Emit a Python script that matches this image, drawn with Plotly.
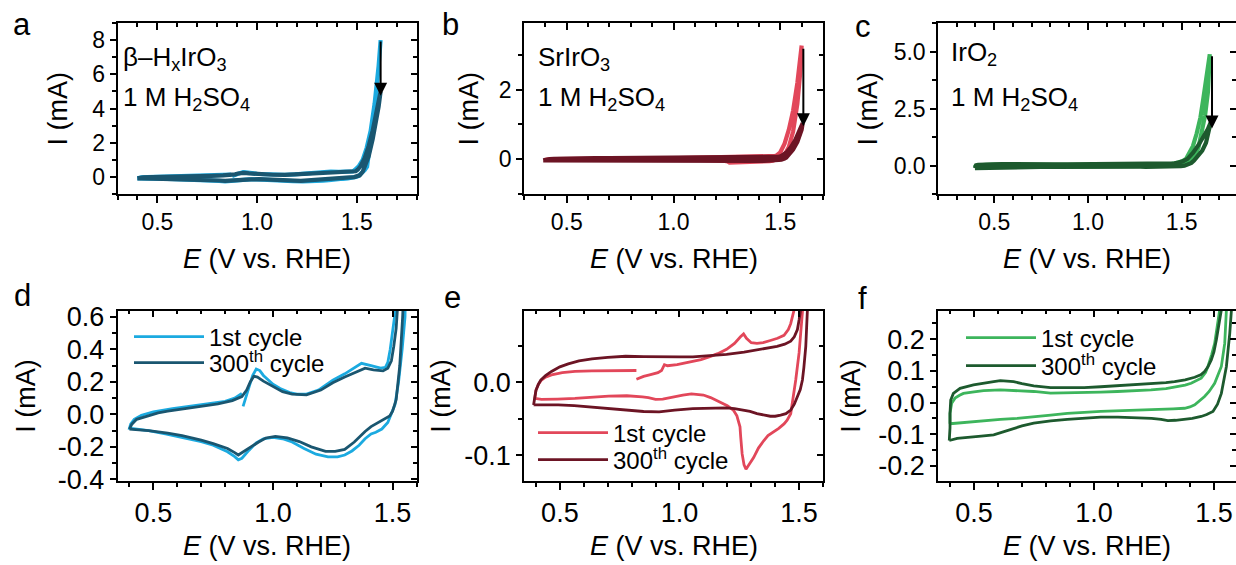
import plotly.graph_objects as go

# ---------------- data (E in V vs RHE, I in mA) ----------------
# beta-HxIrO3, 1st cycle (starts at 0.875 V, anodic first)
hir1_E = [0.875, 0.885, 0.90, 0.915, 0.93, 0.945, 0.96, 0.98, 1.00, 1.03, 1.07, 1.10, 1.14, 1.19, 1.25, 1.30, 1.33, 1.37, 1.41, 1.45, 1.47, 1.48, 1.49, 1.50, 1.51, 1.53, 1.55, 1.57, 1.59, 1.61, 1.62,
          1.615, 1.60, 1.58, 1.565, 1.552, 1.54, 1.525, 1.51, 1.495, 1.48, 1.455, 1.43, 1.41, 1.385, 1.36, 1.33, 1.30, 1.27, 1.23, 1.18, 1.13, 1.08, 1.04, 1.00, 0.96, 0.93, 0.90, 0.87, 0.855, 0.84, 0.81, 0.75, 0.70, 0.62, 0.55, 0.48, 0.43, 0.40,
          0.405, 0.42, 0.45, 0.50, 0.58, 0.66, 0.75, 0.80, 0.84, 0.87]
hir1_I = [0.05, 0.10, 0.17, 0.24, 0.28, 0.27, 0.24, 0.21, 0.186, 0.16, 0.135, 0.125, 0.125, 0.15, 0.21, 0.25, 0.28, 0.315, 0.30, 0.285, 0.29, 0.32, 0.40, 0.50, 0.62, 1.0, 1.7, 2.7, 4.3, 6.5, 8.0,
          7.0, 5.0, 3.0, 1.6, 0.6, 0.4, 0.2, 0.06, 0.0, -0.05, -0.09, -0.11, -0.12, -0.15, -0.19, -0.225, -0.25, -0.262, -0.262, -0.245, -0.21, -0.17, -0.15, -0.142, -0.15, -0.175, -0.22, -0.27, -0.28, -0.26, -0.23, -0.19, -0.168, -0.14, -0.12, -0.10, -0.09, -0.085,
          -0.06, -0.03, -0.005, 0.015, 0.035, 0.05, 0.068, 0.08, 0.10, 0.13]
# beta-HxIrO3, 300th cycle
hir300_E = [0.40, 0.41, 0.43, 0.475, 0.52, 0.56, 0.63, 0.70, 0.77, 0.83, 0.87, 0.89, 0.905, 0.92, 0.935, 0.96, 1.00, 1.04, 1.08, 1.14, 1.20, 1.25, 1.30, 1.34, 1.385, 1.42, 1.46, 1.48, 1.495, 1.505, 1.515, 1.52, 1.54, 1.56, 1.58, 1.60, 1.62,
            1.61, 1.60, 1.58, 1.56, 1.542, 1.53, 1.515, 1.50, 1.488, 1.465, 1.44, 1.41, 1.385, 1.36, 1.34, 1.30, 1.26, 1.22, 1.16, 1.11, 1.06, 1.01, 0.97, 0.94, 0.90, 0.87, 0.855, 0.84, 0.81, 0.75, 0.70, 0.62, 0.56, 0.48, 0.42, 0.40]
hir300_I = [-0.09, -0.06, -0.03, -0.01, 0.01, 0.02, 0.035, 0.05, 0.065, 0.085, 0.11, 0.15, 0.20, 0.235, 0.23, 0.205, 0.17, 0.14, 0.125, 0.12, 0.15, 0.195, 0.23, 0.255, 0.285, 0.275, 0.268, 0.285, 0.33, 0.42, 0.53, 0.64, 1.1, 1.8, 2.7, 3.8, 5.0,
            4.1, 3.4, 2.2, 1.2, 0.6, 0.3, 0.09, 0.02, -0.01, -0.03, -0.05, -0.075, -0.105, -0.14, -0.17, -0.215, -0.228, -0.228, -0.20, -0.167, -0.145, -0.135, -0.145, -0.17, -0.21, -0.24, -0.25, -0.235, -0.21, -0.18, -0.158, -0.13, -0.115, -0.10, -0.093, -0.09]

# SrIrO3, 1st cycle (starts at 0.82 V)
sr1_E = [0.82, 0.85, 0.875, 0.91, 0.925, 0.937, 0.95, 0.97, 0.99, 1.02, 1.056, 1.09, 1.127, 1.16, 1.197, 1.23, 1.255, 1.268, 1.28, 1.30, 1.324, 1.35, 1.38, 1.41, 1.437, 1.455, 1.465, 1.475, 1.48, 1.50, 1.52, 1.54, 1.56, 1.58, 1.60,
         1.595, 1.58, 1.56, 1.54, 1.52, 1.50, 1.486, 1.475, 1.465, 1.45, 1.437, 1.415, 1.394, 1.37, 1.352, 1.33, 1.31, 1.29, 1.278, 1.27, 1.262, 1.256, 1.253, 1.24, 1.225, 1.20, 1.17, 1.13, 1.10, 1.05, 1.014, 0.96, 0.93, 0.90, 0.87, 0.845, 0.78, 0.704, 0.63, 0.563, 0.49, 0.423, 0.395,
         0.40, 0.41, 0.423, 0.44, 0.465, 0.51, 0.563, 0.634, 0.704, 0.77, 0.82]
sr1_I = [0.004, 0.008, 0.010, 0.013, 0.016, 0.024, 0.0225, 0.023, 0.024, 0.026, 0.0285, 0.031, 0.035, 0.039, 0.045, 0.053, 0.062, 0.066, 0.060, 0.054, 0.053, 0.054, 0.057, 0.060, 0.064, 0.072, 0.080, 0.095, 0.10, 0.20, 0.45, 0.85, 1.4, 2.2, 3.27,
         2.6, 1.6, 0.8, 0.35, 0.12, 0.04, 0.003, -0.02, -0.043, -0.052, -0.057, -0.063, -0.068, -0.073, -0.080, -0.090, -0.103, -0.113, -0.119, -0.113, -0.098, -0.075, -0.061, -0.046, -0.038, -0.032, -0.027, -0.021, -0.0175, -0.016, -0.0175, -0.021, -0.023, -0.0235, -0.021, -0.020, -0.0185, -0.019, -0.021, -0.022, -0.023, -0.0235, -0.022,
         -0.011, -0.003, 0.003, 0.007, 0.010, 0.013, 0.0147, 0.0155, 0.016, 0.016, 0.016]
# SrIrO3, 300th cycle
sr300_E = [0.39, 0.395, 0.40, 0.41, 0.42, 0.44, 0.465, 0.50, 0.535, 0.58, 0.634, 0.70, 0.775, 0.85, 0.915, 1.00, 1.056, 1.12, 1.197, 1.27, 1.338, 1.408, 1.44, 1.465, 1.48, 1.493, 1.50, 1.507, 1.53, 1.55, 1.57, 1.59, 1.605,
           1.60, 1.58, 1.56, 1.545, 1.535, 1.528, 1.52, 1.514, 1.505, 1.493, 1.48, 1.465, 1.445, 1.423, 1.40, 1.38, 1.35, 1.324, 1.295, 1.268, 1.23, 1.197, 1.13, 1.056, 0.98, 0.915, 0.85, 0.775, 0.70, 0.634, 0.56, 0.493, 0.44, 0.39]
sr300_I = [-0.031, -0.02, -0.011, -0.003, 0.003, 0.009, 0.0147, 0.021, 0.025, 0.029, 0.032, 0.034, 0.0355, 0.035, 0.0345, 0.0345, 0.0345, 0.036, 0.038, 0.041, 0.0447, 0.049, 0.052, 0.056, 0.062, 0.072, 0.085, 0.10, 0.20, 0.35, 0.55, 0.80, 1.04,
           0.85, 0.50, 0.28, 0.15, 0.10, 0.049, 0.02, 0.003, -0.01, -0.02, -0.03, -0.038, -0.043, -0.045, -0.0465, -0.0465, -0.045, -0.043, -0.040, -0.038, -0.036, -0.035, -0.0355, -0.036, -0.038, -0.0405, -0.040, -0.038, -0.036, -0.0336, -0.032, -0.031, -0.031, -0.031]

# IrO2, 1st cycle
ir1_E = [0.40, 0.40, 0.407, 0.421, 0.44, 0.456, 0.50, 0.54, 0.61, 0.68, 0.749, 0.819, 0.89, 0.959, 1.028, 1.098, 1.168, 1.238, 1.30, 1.336, 1.38, 1.405, 1.43, 1.447, 1.465, 1.475, 1.49, 1.503, 1.524, 1.53, 1.56, 1.58, 1.60, 1.615, 1.63, 1.65,
         1.645, 1.64, 1.625, 1.61, 1.59, 1.57, 1.552, 1.545, 1.531, 1.503, 1.48, 1.461, 1.44, 1.42, 1.40, 1.378, 1.33, 1.28, 1.22, 1.168, 1.10, 1.028, 0.96, 0.889, 0.82, 0.749, 0.68, 0.61, 0.54, 0.47, 0.43, 0.40]
ir1_I = [-0.067, -0.034, -0.002, 0.014, 0.023, 0.029, 0.034, 0.038, 0.040, 0.038, 0.035, 0.0295, 0.030, 0.0316, 0.033, 0.035, 0.037, 0.040, 0.044, 0.048, 0.055, 0.061, 0.069, 0.077, 0.095, 0.114, 0.15, 0.187, 0.293, 0.40, 0.85, 1.4, 2.1, 2.9, 3.7, 4.88,
         4.0, 3.2, 2.2, 1.5, 0.8, 0.4, 0.293, 0.187, 0.114, 0.061, 0.035, 0.019, 0.005, -0.007, -0.014, -0.018, -0.020, -0.021, -0.022, -0.023, -0.025, -0.028, -0.031, -0.034, -0.040, -0.046, -0.050, -0.053, -0.058, -0.063, -0.065, -0.067]
# IrO2, 300th cycle
ir300_E = [0.397, 0.40, 0.40, 0.403, 0.414, 0.442, 0.498, 0.54, 0.582, 0.61, 0.64, 0.665, 0.70, 0.749, 0.819, 0.89, 0.959, 1.028, 1.098, 1.168, 1.238, 1.30, 1.336, 1.38, 1.42, 1.445, 1.461, 1.475, 1.489, 1.50, 1.51, 1.531, 1.56, 1.59, 1.62, 1.64, 1.655,
           1.645, 1.63, 1.61, 1.59, 1.573, 1.566, 1.552, 1.54, 1.531, 1.515, 1.496, 1.47, 1.447, 1.41, 1.378, 1.34, 1.308, 1.28, 1.24, 1.168, 1.10, 1.028, 0.96, 0.889, 0.82, 0.749, 0.70, 0.651, 0.61, 0.582, 0.53, 0.47, 0.43, 0.397]
ir300_I = [-0.12, -0.08, -0.034, 0.008, 0.029, 0.045, 0.056, 0.062, 0.066, 0.069, 0.068, 0.066, 0.060, 0.053, 0.047, 0.046, 0.047, 0.050, 0.053, 0.056, 0.059, 0.063, 0.066, 0.072, 0.080, 0.088, 0.098, 0.113, 0.135, 0.16, 0.198, 0.293, 0.55, 0.90, 1.30, 1.60, 1.90,
           1.5, 1.0, 0.65, 0.42, 0.293, 0.219, 0.114, 0.06, 0.029, -0.005, -0.028, -0.038, -0.044, -0.050, -0.053, -0.056, -0.057, -0.053, -0.050, -0.047, -0.046, -0.046, -0.049, -0.053, -0.058, -0.065, -0.074, -0.086, -0.097, -0.102, -0.106, -0.109, -0.113, -0.12]

cycle_names = ["1st cycle", "300<sup>th</sup> cycle"]
panel_letters = ["a", "b", "c", "d", "e", "f"]
materials = ["β\u2013H<sub>x</sub>IrO<sub>3</sub>", "SrIrO<sub>3</sub>", "IrO<sub>2</sub>"]
electrolyte = "1 M H<sub>2</sub>SO<sub>4</sub>"
x_title = "<i>E</i> (V vs. RHE)"
y_title = "I (mA)"

# arrows (top row): x, start I, end I
arrow_x = [1.62, 1.608, 1.662]
arrow_from = [8.0, 3.22, 4.86]
arrow_to = [4.75, 0.95, 1.62]

# ---------------- styling ----------------
W, H = 1236, 565
FONT = "Arial, Liberation Sans, sans-serif"
light = ["#1BAAE0", "#E2475A", "#3DB55C"]
dark = ["#1A5670", "#6C1424", "#1D5A2E"]

xdom = [[117.5 / W, 416.5 / W], [524 / W, 823 / W], [938 / W, 1.0]]
ydom = [[1 - 194 / H, 1 - 23 / H], [1 - 481 / H, 1 - 310.5 / H]]

xranges = [[0.3, 1.8], [0.3, 1.7], [0.2, 1.79], [0.35, 1.6], [0.35, 1.6], [0.35, 1.592]]
yranges = [[-1, 9], [-1, 3.92], [-1.25, 6.25], [-0.41, 0.64], [-0.135, 0.098], [-0.248, 0.291]]
ytickvals = [[0, 2, 4, 6, 8], [0, 2], [0, 2.5, 5.0], [-0.4, -0.2, 0, 0.2, 0.4, 0.6], [-0.1, 0.0], [-0.2, -0.1, 0, 0.1, 0.2]]
yticktext = [["0", "2", "4", "6", "8"], ["0", "2"], ["0.0", "2.5", "5.0"],
             ["-0.4", "-0.2", "0.0", "0.2", "0.4", "0.6"], ["-0.1", "0.0"], ["-0.2", "-0.1", "0.0", "0.1", "0.2"]]
yminor = [1, 1, 1.25, 0.1, 0.05, 0.05]
xtickvals = [0.5, 1.0, 1.5]
xticktext = ["0.5", "1.0", "1.5"]
tick_size = [23, 27]

data = [(hir1_E, hir1_I, hir300_E, hir300_I), (sr1_E, sr1_I, sr300_E, sr300_I), (ir1_E, ir1_I, ir300_E, ir300_I)]

fig = go.Figure()
layout = {}


def ax_name(n):
    return "" if n == 1 else str(n)


for p in range(6):
    n = p + 1
    row, col = p // 3, p % 3
    ov = n + 6
    s = ax_name(n)
    tf = dict(size=tick_size[row], color="black", family=FONT)
    layout["xaxis" + s] = dict(
        domain=xdom[col], range=xranges[p], anchor="y" + s, automargin=False,
        tickmode="array", tickvals=xtickvals, ticktext=xticktext,
        ticks="outside", ticklen=7, tickwidth=1.5, tickcolor="black",
        minor=dict(tickmode="linear", tick0=0, dtick=0.1, ticks="outside", ticklen=4, tickwidth=1.5, tickcolor="black"),
        showline=True, linewidth=1.5, linecolor="black", showgrid=False, zeroline=False,
        tickfont=tf, fixedrange=True,
    )
    layout["yaxis" + s] = dict(
        domain=ydom[row], range=yranges[p], anchor="x" + s, automargin=False,
        tickmode="array", tickvals=ytickvals[p], ticktext=yticktext[p],
        ticks="outside", ticklen=6, tickwidth=1.5, tickcolor="black",
        minor=dict(tickmode="linear", tick0=0, dtick=yminor[p], ticks="outside", ticklen=4, tickwidth=1.5, tickcolor="black"),
        showline=True, linewidth=1.5, linecolor="black", showgrid=False, zeroline=False,
        tickfont=tf, fixedrange=True,
    )
    # mirrored axes with inward ticks (top / right)
    layout["xaxis" + str(ov)] = dict(
        overlaying="x" + s, side="top", anchor="y" + str(ov), range=xranges[p], automargin=False,
        tickmode="array", tickvals=xtickvals, showticklabels=False,
        ticks="inside", ticklen=7, tickwidth=1.5, tickcolor="black",
        minor=dict(tickmode="linear", tick0=0, dtick=0.1, ticks="inside", ticklen=4, tickwidth=1.5, tickcolor="black"),
        showline=True, linewidth=1.5, linecolor="black", showgrid=False, zeroline=False, fixedrange=True,
    )
    layout["yaxis" + str(ov)] = dict(
        overlaying="y" + s, side="right", anchor="x" + str(ov), range=yranges[p], automargin=False,
        tickmode="array", tickvals=ytickvals[p], showticklabels=False,
        ticks="inside", ticklen=6, tickwidth=1.5, tickcolor="black",
        minor=dict(tickmode="linear", tick0=0, dtick=yminor[p], ticks="inside", ticklen=4, tickwidth=1.5, tickcolor="black"),
        showline=(col != 2), linewidth=1.5, linecolor="black", showgrid=False, zeroline=False, fixedrange=True,
    )
    fig.add_trace(go.Scatter(x=[None], y=[None], xaxis="x" + str(ov), yaxis="y" + str(ov),
                             showlegend=False, hoverinfo="skip"))

    E1, I1, E3, I3 = data[col]
    lw = 4.2 if row == 0 else 2.8
    if row == 1:
        leg1 = "legend" if col == 0 else "legend" + str(2 * col + 1)
        leg2 = "legend" + str(2 * col + 2)
    else:
        leg1 = leg2 = "legend"
    fig.add_trace(go.Scatter(x=E1, y=I1, mode="lines", line=dict(color=light[col], width=lw),
                             xaxis="x" + s, yaxis="y" + s, name=cycle_names[0],
                             showlegend=(row == 1), legend=leg1))
    fig.add_trace(go.Scatter(x=E3, y=I3, mode="lines", line=dict(color=dark[col], width=lw),
                             xaxis="x" + s, yaxis="y" + s, name=cycle_names[1],
                             showlegend=(row == 1), legend=leg2))

annotations = []
# panel letters
letter_pos = [(22, 25), (450, 25), (863, 27), (22, 295), (452, 297), (862, 298)]
for L, (px, py) in zip(panel_letters, letter_pos):
    annotations.append(dict(text=L, x=px / W, y=1 - py / H, xref="paper", yref="paper",
                            xanchor="center", yanchor="middle", showarrow=False,
                            font=dict(size=31, color="black", family=FONT)))
# axis titles
xt_y = [259, 546]
yt_x = [57, 468, 867, 26, 441, 851]
yt_y = [108.5, 395.7]
for p in range(6):
    row, col = p // 3, p % 3
    cx = (xdom[col][0] + xdom[col][1]) / 2
    annotations.append(dict(text=x_title, x=cx, y=1 - xt_y[row] / H, xref="paper", yref="paper",
                            xanchor="center", yanchor="middle", showarrow=False,
                            font=dict(size=27, color="black", family=FONT)))
    annotations.append(dict(text=y_title, x=yt_x[p] / W, y=1 - yt_y[row] / H, xref="paper", yref="paper",
                            xanchor="center", yanchor="middle", showarrow=False, textangle=-90,
                            font=dict(size=27, color="black", family=FONT)))
# material / electrolyte labels
mat_pos = [(121, 58), (536, 58), (949, 54)]
for col in range(3):
    px, py = mat_pos[col]
    annotations.append(dict(text=materials[col], x=px / W, y=1 - py / H, xref="paper", yref="paper",
                            xanchor="left", yanchor="middle", showarrow=False,
                            font=dict(size=26, color="black", family=FONT)))
    annotations.append(dict(text=electrolyte, x=px / W, y=1 - 98 / H, xref="paper", yref="paper",
                            xanchor="left", yanchor="middle", showarrow=False,
                            font=dict(size=26, color="black", family=FONT)))
# arrows
for col in range(3):
    s = ax_name(col + 1)
    annotations.append(dict(x=arrow_x[col], y=arrow_to[col], ax=arrow_x[col], ay=arrow_from[col],
                            xref="x" + s, yref="y" + s, axref="x" + s, ayref="y" + s,
                            text="", showarrow=True, arrowhead=2, arrowsize=1.3, arrowwidth=2,
                            arrowcolor="black"))

legend_common = dict(bgcolor="rgba(0,0,0,0)", borderwidth=0, font=dict(size=24, color="black", family=FONT),
                     itemwidth=70, xanchor="left", yanchor="middle")
leg_x = [129, 129, 533, 533, 961, 961]
leg_y = [337, 363, 433, 460, 338, 366]
for k in range(6):
    key = "legend" if k == 0 else "legend" + str(k + 1)
    layout[key] = dict(x=leg_x[k] / W, y=1 - leg_y[k] / H, **legend_common)

fig.update_layout(**layout)
fig.update_layout(template="none", width=W, height=H, margin=dict(l=0, r=0, t=0, b=0, pad=0),
                  paper_bgcolor="white", plot_bgcolor="white",
                  font=dict(family=FONT, color="black"),
                  annotations=annotations, showlegend=True)

# remove the browser's default 8px body margin so the figure sits at the page origin
fig.write_html("out.html", config={"displayModeBar": False},
               post_script="document.body.style.margin='0px';")
